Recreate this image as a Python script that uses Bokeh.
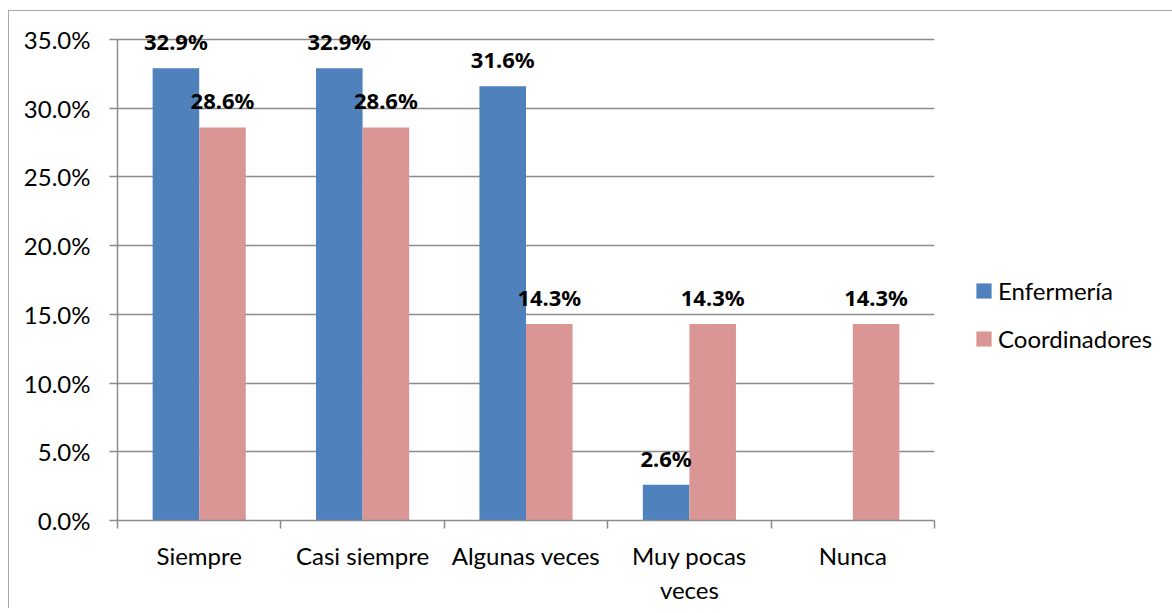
from bokeh.plotting import figure
from bokeh.models import (ColumnDataSource, FactorRange, Range1d, LinearAxis, CategoricalAxis,
                          FixedTicker, PrintfTickFormatter, Legend, LegendItem, LabelSet)
from bokeh.core.properties import value
from bokeh.transform import dodge
from bokeh.embed import file_html
from bokeh.resources import INLINE

# ---- data ----
categories = ["Siempre", "Casi siempre", "Algunas veces", "Muy pocas\nveces", "Nunca"]
enfermeria = [32.9, 32.9, 31.6, 2.6, 0.0]
coordinadores = [28.6, 28.6, 14.3, 14.3, 14.3]
series_names = ["Enfermería", "Coordinadores"]
y_ticks = [0, 5, 10, 15, 20, 25, 30, 35]

# ---- style ----
BLUE = "#4F81BD"
PINK = "#D99694"
GRID = "#8c8c8c"
FONT = "Lato"
BOLD_FONT = "Noto Sans"
BAR_W = 0.285
OFF = BAR_W / 2
PX_PER_UNIT = 481 / 35.0
FRAME_H = 508
Y_END = FRAME_H / PX_PER_UNIT

source = ColumnDataSource(dict(cat=categories, enf=enfermeria, coo=coordinadores))

p = figure(x_range=FactorRange(*categories), y_range=Range1d(0, Y_END),
           frame_width=817, frame_height=FRAME_H,
           min_border_left=108, min_border_right=235, min_border_top=1, min_border_bottom=88,
           output_backend="svg", toolbar_location=None, x_axis_location=None)
p.outline_line_color = None
p.background_fill_color = "white"
p.border_fill_color = "white"
p.styles = {"margin-left": "8px", "margin-top": "10px",
            "border-left": "1px solid #a6a6a6", "border-top": "1px solid #a6a6a6"}

r1 = p.vbar(x=dodge("cat", -OFF, range=p.x_range), top="enf", width=BAR_W, source=source,
            fill_color=BLUE, line_color=None)
r2 = p.vbar(x=dodge("cat", OFF, range=p.x_range), top="coo", width=BAR_W, source=source,
            fill_color=PINK, line_color=None)

# y axis
p.yaxis.ticker = FixedTicker(ticks=y_ticks)
p.yaxis.bounds = (0, 35)
p.yaxis.formatter = PrintfTickFormatter(format="%.1f%%")
p.yaxis.axis_line_color = GRID
p.yaxis.axis_line_width = 1.5
p.yaxis.major_tick_line_color = GRID
p.yaxis.major_tick_line_width = 1.5
p.yaxis.major_tick_out = 8
p.yaxis.major_tick_in = 0
p.yaxis.minor_tick_line_color = None
p.yaxis.major_label_standoff = 19
p.yaxis.major_label_text_font = FONT
p.yaxis.major_label_text_font_size = "24px"
p.yaxis.major_label_text_color = "black"

p.ygrid.ticker = FixedTicker(ticks=y_ticks)
p.ygrid.grid_line_color = GRID
p.ygrid.grid_line_width = 1.5
p.xgrid.visible = False

# x axis: ticks at category boundaries (no labels)
tick_axis = LinearAxis(ticker=FixedTicker(ticks=list(range(len(categories) + 1))))
tick_axis.axis_line_color = GRID
tick_axis.axis_line_width = 1.5
tick_axis.major_tick_line_color = GRID
tick_axis.major_tick_line_width = 1.5
tick_axis.major_tick_out = 8
tick_axis.major_tick_in = 0
tick_axis.minor_tick_line_color = None
tick_axis.major_label_text_font_size = "0px"
tick_axis.major_label_text_color = None
tick_axis.major_label_standoff = 0
p.add_layout(tick_axis, "below")

label_axis = CategoricalAxis()
label_axis.axis_line_color = None
label_axis.major_tick_line_color = None
label_axis.major_tick_out = 0
label_axis.major_tick_in = 0
label_axis.major_label_standoff = 12
label_axis.major_label_text_font = FONT
label_axis.major_label_text_font_size = "24px"
label_axis.major_label_text_color = "black"
p.add_layout(label_axis, "below")

# data labels (bold, above bars)
def label_source(values):
    cats = [c for c, v in zip(categories, values) if v > 0]
    vals = [v for v in values if v > 0]
    return ColumnDataSource(dict(cat=cats, y=vals, text=[f"{v:.1f}%" for v in vals]))

for vals, off in ((enfermeria, -OFF), (coordinadores, OFF)):
    ls = LabelSet(x=dodge("cat", off, range=p.x_range), y="y", text="text",
                  source=label_source(vals), text_align="center", text_baseline="alphabetic",
                  y_offset=18, text_font=value(BOLD_FONT), text_font_style="bold",
                  text_font_size="22px", text_color="black")
    p.add_layout(ls)

legend = Legend(items=[LegendItem(label=series_names[0], renderers=[r1]),
                       LegendItem(label=series_names[1], renderers=[r2])],
                location=(40, 167), orientation="vertical")
legend.glyph_width = 19
legend.glyph_height = 19
legend.label_height = 19
legend.spacing = 19
legend.label_standoff = 5
legend.padding = 0
legend.margin = 0
legend.border_line_color = None
legend.background_fill_alpha = 0
legend.label_text_font = FONT
legend.label_text_font_size = "24px"
legend.label_text_color = "black"
p.add_layout(legend, "right")

open("out.html", "w").write(file_html(p, INLINE))
